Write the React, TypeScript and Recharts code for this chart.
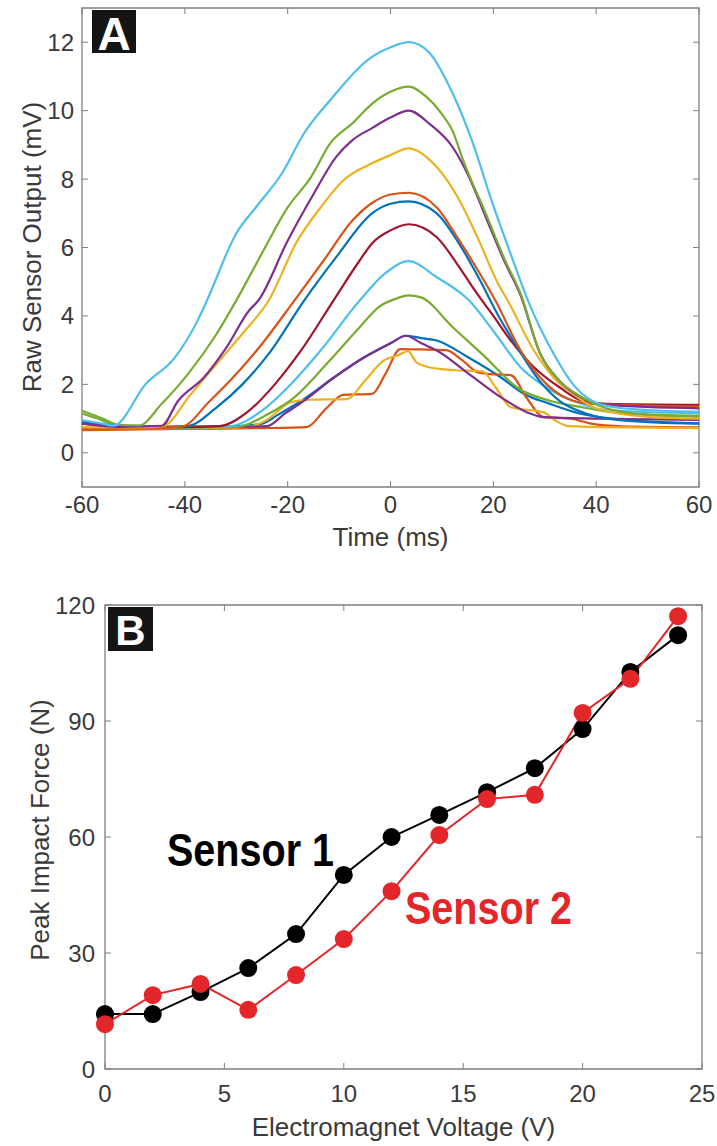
import { LineChart, Line, XAxis, YAxis, ReferenceArea } from 'recharts';

const FONT = '"Liberation Sans", Arial, Helvetica, sans-serif';
const TEXT = '#3a3a3a';
const BOX = '#7f7f7f';

// ---- panel A: raw traces, one per electromagnet voltage (t in ms, output in mV)
type Pt = [number, number];

const timeTicks = [-60, -40, -20, 0, 20, 40, 60];
const rawTicks = [0, 2, 4, 6, 8, 10, 12];

const trace0V: Pt[] = [[-60, 0.9], [-55, 0.82], [-45, 0.76], [-30, 0.78], [-25, 0.85], [-22, 1.1], [-17, 1.55], [-11, 2.2], [-5, 2.8], [0, 3.2], [3, 3.42], [6, 3.35], [9, 3.28], [15, 2.8], [21.5, 2.2], [26, 1.72], [31, 1.43], [37, 1.14], [43.6, 0.99], [50, 0.92], [60, 0.86]];
const trace2V: Pt[] = [[-60, 0.66], [-40, 0.7], [-25, 0.72], [-16.3, 0.75], [-12.5, 1.3], [-9.2, 1.69], [-3.6, 1.72], [-1, 2.3], [1.9, 3.03], [6, 3.02], [10.8, 3.0], [14, 2.7], [17, 2.35], [19.4, 2.3], [23.4, 2.27], [26.5, 1.6], [29.8, 1.04], [35, 1.0], [39, 0.85], [45, 0.77], [60, 0.74]];
const trace4V: Pt[] = [[-60, 0.72], [-40, 0.72], [-28, 0.75], [-24.3, 0.94], [-19.4, 1.48], [-16, 1.55], [-8.5, 1.57], [-5, 2.1], [-1.3, 2.7], [1.5, 2.85], [3.4, 2.97], [5, 2.65], [7.5, 2.5], [12, 2.42], [17.9, 2.38], [20.5, 1.9], [23.4, 1.33], [29.8, 1.18], [32, 0.95], [34.6, 0.78], [45, 0.74], [60, 0.72]];
const trace6V: Pt[] = [[-60, 0.85], [-50, 0.75], [-30, 0.76], [-24, 0.78], [-20.5, 1.15], [-17, 1.5], [-11, 2.2], [-5, 2.8], [0, 3.2], [3, 3.42], [6, 3.2], [9, 2.99], [15.3, 2.3], [21.5, 1.62], [26.6, 1.18], [29.8, 1.04], [40, 1.0], [50, 0.98], [60, 0.96]];
const trace8V: Pt[] = [[-60, 1.15], [-57, 1.0], [-53, 0.8], [-40, 0.74], [-30, 0.76], [-23.7, 1.14], [-18.7, 1.62], [-12.4, 2.6], [-6, 3.67], [-2.3, 4.26], [1, 4.5], [3.5, 4.6], [5.8, 4.55], [12.1, 3.67], [18.5, 2.79], [24.7, 1.9], [31, 1.52], [37.3, 1.33], [45, 1.15], [60, 1.05]];
const trace10V: Pt[] = [[-60, 0.95], [-53, 0.78], [-40, 0.75], [-31.3, 0.78], [-25, 1.23], [-20, 1.91], [-13.6, 2.99], [-6, 4.45], [-1, 5.25], [3.5, 5.6], [9, 5.13], [15.3, 4.45], [20.4, 3.48], [25.3, 2.5], [30.4, 1.9], [35.5, 1.52], [42, 1.25], [60, 1.15]];
const trace12V: Pt[] = [[-60, 0.88], [-53, 0.76], [-40, 0.75], [-33.2, 0.78], [-27.5, 1.23], [-22.5, 2.0], [-17.4, 2.99], [-11.1, 4.45], [-6, 5.62], [-3.6, 6.12], [0, 6.5], [3.5, 6.68], [9, 6.3], [13.4, 5.42], [16.6, 4.7], [20, 4.0], [23.4, 3.28], [27.9, 2.5], [33, 1.9], [37.3, 1.52], [42, 1.43], [60, 1.4]];
const trace14V: Pt[] = [[-60, 0.9], [-53, 0.78], [-45, 0.75], [-39.5, 0.78], [-33.8, 1.33], [-28.8, 2.0], [-23.7, 2.89], [-16.8, 4.45], [-10.6, 5.71], [-3.6, 7.0], [0, 7.28], [3.5, 7.35], [9, 7.0], [13.4, 6.1], [17.2, 5.1], [21, 4.0], [25, 3.0], [29, 2.1], [33, 1.5], [38, 1.15], [45, 0.95], [60, 0.85]];
const trace16V: Pt[] = [[-60, 0.7], [-50, 0.72], [-40.7, 0.76], [-35.1, 1.52], [-30, 2.3], [-25, 3.18], [-18.7, 4.45], [-13, 5.62], [-7.4, 6.79], [-3.6, 7.3], [0, 7.55], [3.5, 7.6], [9, 7.17], [13.4, 6.2], [17.8, 5.13], [20.4, 4.45], [25.3, 2.99], [30.4, 2.0], [35.5, 1.52], [40, 1.42], [60, 1.35]];
const trace18V: Pt[] = [[-60, 0.75], [-50, 0.74], [-44.3, 0.78], [-38.8, 1.72], [-33.8, 2.6], [-28.8, 3.48], [-23.7, 4.45], [-18.1, 6.2], [-13.6, 7.17], [-9.2, 7.96], [-3.6, 8.46], [0, 8.7], [3.5, 8.9], [9, 8.35], [13.4, 7.38], [17.2, 6.2], [20.9, 4.95], [22.8, 4.45], [27.9, 2.99], [31.7, 2.2], [35.5, 1.72], [40, 1.3], [50, 1.05], [60, 1.0]];
const trace20V: Pt[] = [[-60, 0.85], [-53, 0.76], [-44.5, 0.79], [-41.3, 1.52], [-36.3, 2.2], [-31.9, 3.08], [-27.5, 4.16], [-25.7, 4.45], [-20, 6.2], [-14.9, 7.58], [-10.6, 8.64], [-7.4, 9.14], [-3.6, 9.49], [0, 9.8], [3.5, 10.0], [7.7, 9.6], [12.1, 8.93], [15.3, 8.05], [18.5, 6.9], [22.3, 5.55], [25.3, 4.6], [29.1, 2.9], [32.9, 2.1], [37.3, 1.6], [42, 1.4], [60, 1.3]];
const trace22V: Pt[] = [[-60, 1.23], [-56, 1.0], [-53, 0.82], [-48.9, 0.8], [-44.5, 1.43], [-39.4, 2.3], [-33.8, 3.48], [-30, 4.45], [-25, 5.83], [-20, 7.17], [-15.5, 8.05], [-11.7, 9.05], [-7.4, 9.63], [-3.6, 10.2], [0, 10.55], [3.5, 10.7], [7, 10.4], [10, 9.9], [12.1, 9.4], [14, 8.6], [18.5, 7.0], [22.3, 5.62], [25.3, 4.65], [29.1, 2.9], [32.9, 2.1], [37.3, 1.62], [42, 1.3], [50, 1.12], [60, 1.08]];
const trace24V: Pt[] = [[-60, 0.95], [-56, 0.85], [-53.9, 0.79], [-47.6, 2.01], [-41.9, 2.79], [-37.5, 3.87], [-35.7, 4.45], [-30, 6.41], [-26.2, 7.17], [-21.1, 8.17], [-16.8, 9.34], [-11.7, 10.31], [-3.6, 11.57], [0, 11.85], [3.6, 12.0], [7.5, 11.7], [12.1, 10.5], [15.9, 9.1], [19.6, 7.4], [23.4, 5.8], [26.6, 4.5], [31.7, 2.9], [35.5, 2.0], [39.2, 1.52], [43.6, 1.33], [50, 1.25], [60, 1.2]];

const traces = [trace0V, trace2V, trace4V, trace6V, trace8V, trace10V, trace12V, trace14V, trace16V, trace18V, trace20V, trace22V, trace24V];
// matlab default colour order, wrapping after 7
const traceColors = ['#0072BD', '#D95319', '#EDB120', '#7E2F8E', '#77AC30', '#4DBEEE', '#A2142F', '#0072BD', '#D95319', '#EDB120', '#7E2F8E', '#77AC30', '#4DBEEE'];

// ---- panel B: peak force vs voltage
const voltages = [0, 2, 4, 6, 8, 10, 12, 14, 16, 18, 20, 22, 24];
const sensor1 = [14.2, 14.2, 19.9, 26.1, 34.9, 50.2, 60.0, 65.7, 71.6, 77.8, 87.9, 102.7, 112.2];
const sensor2 = [11.6, 19.1, 22.0, 15.3, 24.3, 33.6, 46.0, 60.5, 69.8, 70.9, 92.1, 100.9, 117.1];
const voltTicks = [0, 5, 10, 15, 20, 25];
const forceTicks = [0, 30, 60, 90, 120];

const forceRows = voltages.map((v, i) => ({ v, s1: sensor1[i], s2: sensor2[i] }));

// plot boxes (chart-local pixels)
const A = { left: 82, right: 699, top: 8, bottom: 487 };
const B = { left: 105, right: 702, top: 45, bottom: 509 };
const TICK = 6;

function yTick(box: typeof A, gap: number) {
  return (props: any) => {
    const y = props.y;
    return (
      <g>
        <line x1={box.left} x2={box.left + TICK} y1={y} y2={y} stroke={BOX} />
        <line x1={box.right - TICK} x2={box.right} y1={y} y2={y} stroke={BOX} />
        <text x={box.left - gap} y={y} textAnchor="end" dominantBaseline="central"
          fontSize={24} fontFamily={FONT} fill={TEXT}>{props.payload.value}</text>
      </g>
    );
  };
}

function xTick(box: typeof A, labelY: number) {
  return (props: any) => {
    const x = props.x;
    return (
      <g>
        <line x1={x} x2={x} y1={box.bottom} y2={box.bottom - TICK} stroke={BOX} />
        <line x1={x} x2={x} y1={box.top} y2={box.top + TICK} stroke={BOX} />
        <text x={x} y={labelY} textAnchor="middle" dominantBaseline="central"
          fontSize={24} fontFamily={FONT} fill={TEXT}>{props.payload.value}</text>
      </g>
    );
  };
}

function PanelA() {
  return (
    <LineChart width={717} height={565} margin={{ top: A.top, right: 717 - A.right, bottom: 0, left: 0 }}>
      <XAxis type="number" dataKey="t" domain={[-60, 60]} ticks={timeTicks} interval={0}
        height={565 - A.bottom} axisLine={false} tickLine={false} tick={xTick(A, 504)} />
      <YAxis type="number" domain={[-1, 13]} ticks={rawTicks} interval={0} width={A.left}
        axisLine={false} tickLine={false} tick={yTick(A, 8)} />
      <ReferenceArea x1={-60} x2={60} y1={-1} y2={13} fill="none" stroke={BOX} strokeWidth={1.3} />
      {traces.map((tr, i) => (
        <Line key={i} data={tr.map(([t, v]) => ({ t, v }))} dataKey="v" type="monotone"
          stroke={traceColors[i]} strokeWidth={2.2} dot={false} isAnimationActive={false} />
      ))}
    </LineChart>
  );
}

function PanelB() {
  return (
    <LineChart width={717} height={586} data={forceRows}
      margin={{ top: B.top, right: 717 - B.right, bottom: 0, left: 0 }}>
      <XAxis type="number" dataKey="v" domain={[0, 25]} ticks={voltTicks} interval={0}
        height={586 - B.bottom} axisLine={false} tickLine={false} tick={xTick(B, 533)} />
      <YAxis type="number" domain={[0, 120]} ticks={forceTicks} interval={0} width={B.left}
        axisLine={false} tickLine={false} tick={yTick(B, 10)} />
      <ReferenceArea x1={0} x2={25} y1={0} y2={120} fill="none" stroke={BOX} strokeWidth={1.3} />
      <Line dataKey="s1" type="linear" stroke="#000" strokeWidth={2}
        dot={{ r: 9, fill: '#000', stroke: '#000', strokeWidth: 0 }} isAnimationActive={false} />
      <Line dataKey="s2" type="linear" stroke="#e3262a" strokeWidth={2}
        dot={{ r: 9, fill: '#e3262a', stroke: '#e3262a', strokeWidth: 0 }} isAnimationActive={false} />
    </LineChart>
  );
}

export default function App() {
  return (
    <div style={{ position: 'absolute', left: 0, top: 0, width: 717, height: 1146, background: '#fff', fontFamily: FONT }}>
      <div style={{ position: 'absolute', left: 0, top: 0 }}><PanelA /></div>
      <div style={{ position: 'absolute', left: 0, top: 560 }}><PanelB /></div>
      <svg width={717} height={1146} style={{ position: 'absolute', left: 0, top: 0, pointerEvents: 'none' }}>
        <rect x={92} y={10} width={44} height={43} fill="#141414" />
        <text x={114} y={50} textAnchor="middle" fontSize={46} fontWeight="bold" fill="#fff" fontFamily={FONT}>A</text>
        <rect x={108} y={607} width={45} height={44} fill="#141414" />
        <text x={130.5} y={645} textAnchor="middle" fontSize={42} fontWeight="bold" fill="#fff" fontFamily={FONT}>B</text>

        <text transform="translate(31.5,247) rotate(-90)" textAnchor="middle" dominantBaseline="central"
          fontSize={26} fill={TEXT} fontFamily={FONT}>Raw Sensor Output (mV)</text>
        <text x={390.5} y={537} textAnchor="middle" dominantBaseline="central"
          fontSize={26} fill={TEXT} fontFamily={FONT}>Time (ms)</text>
        <text transform="translate(40,830) rotate(-90)" textAnchor="middle" dominantBaseline="central"
          fontSize={26} fill={TEXT} fontFamily={FONT}>Peak Impact Force (N)</text>
        <text x={403.5} y={1127} textAnchor="middle" dominantBaseline="central"
          fontSize={26} fill={TEXT} fontFamily={FONT}>Electromagnet Voltage (V)</text>

        <text x={167} y={866} fontSize={46} fontWeight="bold" fill="#000" textLength={167} lengthAdjust="spacingAndGlyphs"
          fontFamily={'"Liberation Sans Narrow", ' + FONT}>Sensor 1</text>
        <text x={405} y={924} fontSize={46} fontWeight="bold" fill="#e3262a" textLength={167} lengthAdjust="spacingAndGlyphs"
          fontFamily={'"Liberation Sans Narrow", ' + FONT}>Sensor 2</text>
      </svg>
    </div>
  );
}
